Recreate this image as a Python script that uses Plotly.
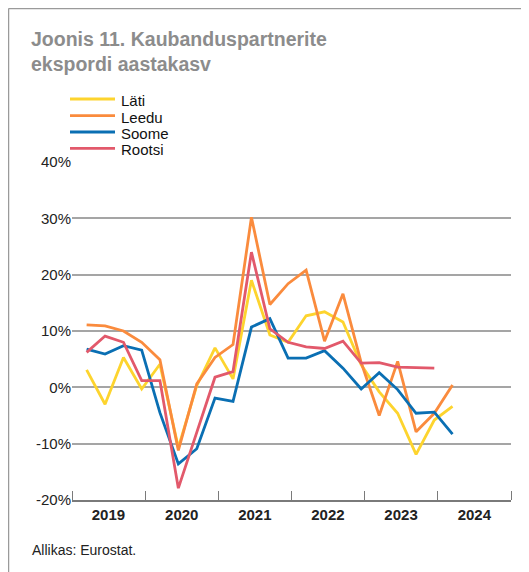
import plotly.graph_objects as go

quarters = ["2019Q1", "2019Q2", "2019Q3", "2019Q4",
            "2020Q1", "2020Q2", "2020Q3", "2020Q4",
            "2021Q1", "2021Q2", "2021Q3", "2021Q4",
            "2022Q1", "2022Q2", "2022Q3", "2022Q4",
            "2023Q1", "2023Q2", "2023Q3", "2023Q4",
            "2024Q1"]

lati = [3.1, -3.0, 5.3, -0.3, 4.1, -10.7, 0.3, 7.0, 1.5, 19.0, 9.3,
        8.0, 12.7, 13.4, 11.6, 4.0, -0.8, -4.6, -11.9, -5.8, -3.4]
leedu = [11.1, 10.9, 10.0, 8.0, 4.9, -11.2, 0.6, 5.3, 7.6, 30.2, 14.7,
         18.4, 20.8, 8.2, 16.6, 4.4, -5.0, 4.6, -7.9, -4.6, 0.4]
soome = [6.8, 5.9, 7.4, 6.6, -4.5, -13.6, -10.9, -1.9, -2.5, 10.7, 12.2,
         5.2, 5.2, 6.5, 3.4, -0.3, 2.6, -0.4, -4.6, -4.4, -8.3]
rootsi = [6.2, 9.1, 8.0, 1.2, 1.2, -17.9, -8.0, 1.8, 2.8, 24.0, 10.4,
          8.0, 7.2, 6.9, 8.2, 4.3, 4.4, 3.6, 3.5, 3.4]

years = [2019, 2020, 2021, 2022, 2023, 2024]
y_ticks = [-20, -10, 0, 10, 20, 30, 40]
y_tick_labels = ["-20%", "-10%", "0%", "10%", "20%", "30%", "40%"]

series_names = ["Läti", "Leedu", "Soome", "Rootsi"]
series_values = [lati, leedu, soome, rootsi]
series_colors = ["#FDD42E", "#FA8B3D", "#0A6FB3", "#E2596B"]


def q_to_date(q):
    y, n = q.split("Q")
    return f"{y}-{3 * int(n):02d}-15"


x_dates = [q_to_date(q) for q in quarters]

FONT = "Liberation Sans, Arial, Helvetica, sans-serif"

fig = go.Figure()
for name, vals, color in zip(series_names, series_values, series_colors):
    fig.add_trace(go.Scatter(
        x=x_dates[:len(vals)], y=vals, name=name, mode="lines",
        line=dict(color=color, width=2.8), showlegend=False,
    ))

# layout helpers (page pixels -> paper coordinates of the plot area)
PL, PR, PT, PB = 72, 511, 162, 500


def px(xp):
    return (xp - PL) / (PR - PL)


def py(yp):
    return (PB - yp) / (PB - PT)


annotations = [
    dict(text="<b>Joonis 11. Kaubanduspartnerite</b><br><b>ekspordi aastakasv</b>",
         xref="paper", yref="paper", align="left",
         x=px(29), y=py(52), xanchor="left", yanchor="middle", showarrow=False,
         font=dict(size=19.5, color="#8c8c8c", family=FONT)),
    dict(text="Allikas: Eurostat.", xref="paper", yref="paper",
         x=px(30), y=py(550), xanchor="left", yanchor="middle", showarrow=False,
         font=dict(size=14, color="#222222", family=FONT)),
]
shapes = [
    dict(type="line", xref="paper", yref="paper",
         x0=px(8.5), x1=px(529), y0=py(8.5), y1=py(8.5),
         line=dict(color="#9a9a9a", width=1.5)),
    dict(type="line", xref="paper", yref="paper",
         x0=px(8.5), x1=px(8.5), y0=py(8.5), y1=py(572),
         line=dict(color="#9a9a9a", width=1.5)),
]

# manual legend
legend_rows = [99, 115.7, 132, 148.3]
for name, color, yrow in zip(series_names, series_colors, legend_rows):
    shapes.append(dict(type="line", xref="paper", yref="paper",
                       x0=px(70), x1=px(115), y0=py(yrow), y1=py(yrow),
                       line=dict(color=color, width=2.8)))
    annotations.append(dict(text=name, xref="paper", yref="paper",
                            x=px(119), y=py(yrow + 1.5), xanchor="left",
                            yanchor="middle", showarrow=False,
                            font=dict(size=15, color="#111111", family=FONT)))

# body has 8px default margin: figure sits at page (8, 8)
fig.update_layout(
    width=521, height=564,
    margin=dict(l=64, r=18, t=154, b=72),
    paper_bgcolor="white", plot_bgcolor="white",
    font=dict(family=FONT, color="#222222", size=15),
    showlegend=False,
    xaxis=dict(
        type="date",
        range=["2019-01-01", "2025-01-01"],
        tickmode="array",
        tickvals=[f"{y}-07-02" for y in years],
        ticktext=[f"<b>{y}</b>" for y in years],
        ticks="",
        showgrid=False,
        showline=True, linecolor="#7a7a7a", linewidth=1.5,
        tickfont=dict(size=15, color="#222222", family=FONT),
        minor=dict(
            tickmode="array",
            tickvals=[f"{y}-01-01" for y in years + [2025]],
            ticks="inside", ticklen=9, tickwidth=1.3, tickcolor="#7a7a7a",
            showgrid=False,
        ),
        fixedrange=True,
    ),
    yaxis=dict(
        range=[-20, 40],
        tickmode="array",
        tickvals=y_ticks,
        ticktext=y_tick_labels,
        showgrid=True, gridcolor="#a5a5a5", gridwidth=1.5,
        zeroline=False,
        showline=False,
        ticks="",
        tickfont=dict(size=15, color="#222222", family=FONT),
        fixedrange=True,
    ),
    annotations=annotations,
    shapes=shapes,
)

fig.write_html("out.html")
